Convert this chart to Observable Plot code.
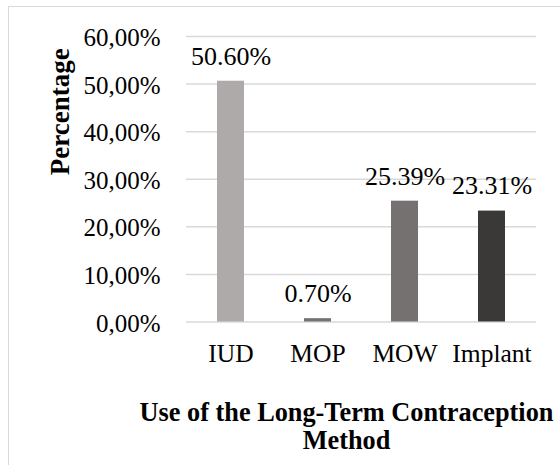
<!DOCTYPE html>
<html>
<head>
<meta charset="utf-8">
<script src="https://cdn.jsdelivr.net/npm/d3@7"></script>
<script src="https://cdn.jsdelivr.net/npm/@observablehq/plot@0.6"></script>
<style>
  html, body { margin: 0; padding: 0; background: #fff; }
  #wrap { position: relative; width: 560px; height: 465px; overflow: hidden; }
  #frame { position: absolute; left: 8px; top: 6px; width: 620px; height: 520px; border: 1.5px solid #d9d9d9; box-sizing: border-box; }
  #chart { position: absolute; left: 0; top: 0; }
  #chart svg text { font-family: "Liberation Serif", "Times New Roman", serif; }
</style>
</head>
<body>
<div id="wrap"><div id="frame"></div><div id="chart"></div></div>
<script>
const categories = ["IUD", "MOP", "MOW", "Implant"];
const values = [50.60, 0.70, 25.39, 23.31];
const valueLabels = ["50.60%", "0.70%", "25.39%", "23.31%"];
const barColors = ["#aeaaaa", "#767171", "#767171", "#3b3838"];
const yTicks = [0, 10, 20, 30, 40, 50, 60];
const yTitle = "Percentage";
const xTitle = "Use of the Long-Term Contraception\nMethod";

const data = categories.map((c, i) => ({category: c, value: values[i], label: valueLabels[i]}));
const serif = "Liberation Serif";

const chart = Plot.plot({
  width: 560,
  height: 465,
  marginLeft: 186,
  marginRight: 24,
  marginTop: 36,
  marginBottom: 143.5,
  style: {fontFamily: serif, background: "transparent", color: "#000"},
  x: {domain: categories, paddingInner: 0.686, paddingOuter: 0.343, axis: null},
  y: {domain: [0, 60], axis: null},
  color: {type: "ordinal", domain: categories, range: barColors},
  marks: [
    Plot.ruleY(yTicks, {stroke: "#d9d9d9", strokeWidth: 1.5}),
    Plot.barY(data, {x: "category", y: "value", fill: "category"}),
    Plot.text(data, {x: "category", y: "value", text: "label", dy: -25, fontSize: 26, fontFamily: serif, fill: "#000"}),
    Plot.axisY(yTicks, {tickSize: 0, tickPadding: 26, fontSize: 25, fontFamily: serif, dy: 1.5, label: null,
      tickFormat: d => d.toFixed(2).replace(".", ",") + "%"}),
    Plot.axisX(categories, {tickSize: 0, tickPadding: 22, fontSize: 25.5, fontFamily: serif, label: null}),
    Plot.text([yTitle], {frameAnchor: "left", dx: -126, dy: -4, rotate: -90, fontSize: 27, fontFamily: serif, fontWeight: "bold", fill: "#000"}),
    Plot.text([xTitle], {frameAnchor: "bottom", dx: -15, dy: 78, lineAnchor: "top", lineHeight: 1.1, fontSize: 26.3, fontFamily: serif, fontWeight: "bold", fill: "#000"})
  ]
});
document.getElementById("chart").appendChild(chart);
</script>
</body>
</html>
